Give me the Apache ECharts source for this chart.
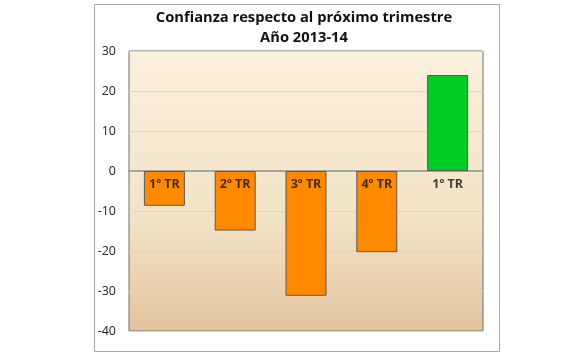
<!DOCTYPE html>
<html><head><meta charset="utf-8">
<script src="https://cdn.jsdelivr.net/npm/echarts@6/dist/echarts.min.js"></script>
<style>html,body{margin:0;padding:0;background:#fff}#c{width:585px;height:355px}</style>
</head><body><div id="c"></div>
<script>
const categories = ['1º TR', '2º TR', '3º TR', '4º TR', '1º TR '];
const values = [-8.7, -14.9, -31.2, -20.3, 24];
const barColors = ['#ff8a00', '#ff8a00', '#ff8a00', '#ff8a00', '#00cc26'];
const titleLines = ['Confianza respecto al próximo trimestre', 'Año 2013-14'];
const yMin = -40, yMax = 30, yStep = 10;

const chart = echarts.init(document.getElementById('c'));
chart.setOption({
  animation: false,
  backgroundColor: '#ffffff',
  graphic: [{
    type: 'rect', left: 92, top: 2,
    shape: { width: 405, height: 347 },
    style: { fill: 'none', stroke: '#a8a8a8', lineWidth: 1 }, z: -1
  }],
  title: {
    text: titleLines.join('\n'), left: 299, top: 3, textAlign: 'center',
    textStyle: { fontFamily: 'Open Sans', fontWeight: 'bold', fontSize: 14.7, color: '#111', lineHeight: 20 }
  },
  grid: {
    left: 129, top: 51, width: 354, height: 280, show: true,
    borderColor: '#6e6e6e', borderWidth: 1,
    backgroundColor: {
      type: 'linear', x: 0, y: 0, x2: 0, y2: 1,
      colorStops: [{ offset: 0, color: '#fbf0dc' }, { offset: 0.6, color: '#f3e3c6' }, { offset: 1, color: '#e2c49e' }]
    }
  },
  xAxis: {
    type: 'category', data: categories,
    axisLine: { onZero: true, lineStyle: { color: '#a6a6a6', width: 2 } },
    axisTick: { show: false },
    axisLabel: { show: false }
  },
  yAxis: {
    type: 'value', min: yMin, max: yMax, interval: yStep,
    axisLine: { show: false }, axisTick: { show: false },
    splitLine: { lineStyle: { color: '#e6d3b3', width: 1 } },
    axisLabel: { margin: 13, fontFamily: 'Open Sans', fontSize: 12.5, color: '#222' }
  },
  series: [{
    type: 'bar', barWidth: 41,
    data: values.map((v, i) => ({ value: v, itemStyle: { color: barColors[i] } })),
    itemStyle: { borderColor: '#5a5a5a', borderWidth: 1 }
  }, {
    type: 'scatter', symbolSize: 0, z: 10, silent: true,
    data: categories.map(c => [c, 0]),
    label: {
      show: true, position: 'bottom', distance: 7,
      formatter: p => p.data[0].trim(),
      fontFamily: 'Open Sans', fontWeight: 'bold', fontSize: 12.5, color: '#111'
    }
  }]
});
</script></body></html>
